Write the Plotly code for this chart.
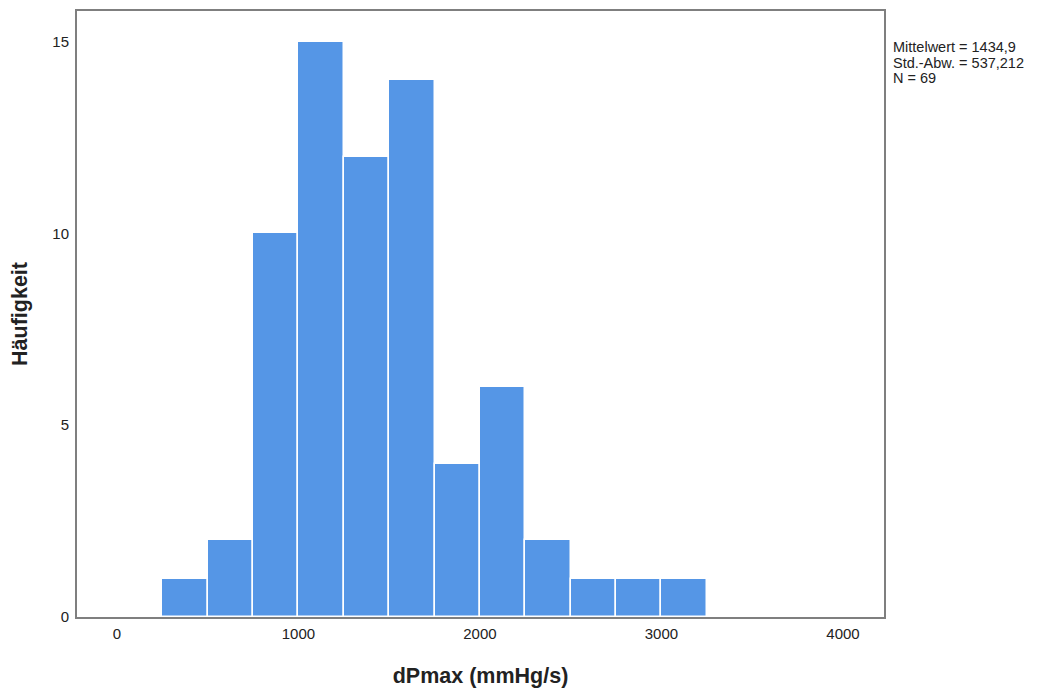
import plotly.graph_objects as go

bin_edges = [250, 500, 750, 1000, 1250, 1500, 1750, 2000, 2250, 2500, 2750, 3000, 3250]
counts = [1, 2, 10, 15, 12, 14, 4, 6, 2, 1, 1, 1]
x_ticks = [0, 1000, 2000, 3000, 4000]
y_ticks = [0, 5, 10, 15]
stats_text = ["Mittelwert = 1434,9", "Std.-Abw. = 537,212", "N = 69"]

centers = [(a + b) / 2 for a, b in zip(bin_edges[:-1], bin_edges[1:])]
widths = [b - a for a, b in zip(bin_edges[:-1], bin_edges[1:])]

fig = go.Figure()
fig.add_trace(go.Bar(
    x=centers, y=counts, width=widths,
    marker=dict(color="#5596E6", line=dict(color="white", width=1.5)),
    showlegend=False,
))

fig.update_layout(
    width=1030, height=680,
    margin=dict(l=69, r=154, t=1, b=71),
    paper_bgcolor="white", plot_bgcolor="white",
    font=dict(family="Liberation Sans, Arial", color="#222222"),
    bargap=0,
)
fig.update_xaxes(
    range=[-220, 4226], tickvals=x_ticks, ticktext=[str(v) for v in x_ticks],
    showgrid=False, zeroline=False, showline=True, mirror=True,
    linecolor="#7f7f7f", linewidth=2, ticks="", ticklen=0,
    tickfont=dict(size=15), ticklabelstandoff=2,
    title=dict(text="<b>dPmax (mmHg/s)</b>", font=dict(size=21.5), standoff=27),
)
fig.update_yaxes(
    range=[0, 15.8], tickvals=y_ticks, ticktext=[str(v) for v in y_ticks],
    showgrid=False, zeroline=False, showline=True, mirror=True,
    linecolor="#7f7f7f", linewidth=2, ticks="", ticklen=0,
    tickfont=dict(size=15), ticklabelstandoff=3,
    title=dict(text="<b>Häufigkeit</b>", font=dict(size=21.5), standoff=19),
)
line_y = [0.9408, 0.9145, 0.8898]
for txt, yy in zip(stats_text, line_y):
    fig.add_annotation(
        xref="paper", yref="paper", x=1.0085, y=yy, xanchor="left", yanchor="middle",
        text=txt, showarrow=False, align="left",
        font=dict(size=14.5, color="#222222"),
    )
fig.write_html("out.html")
